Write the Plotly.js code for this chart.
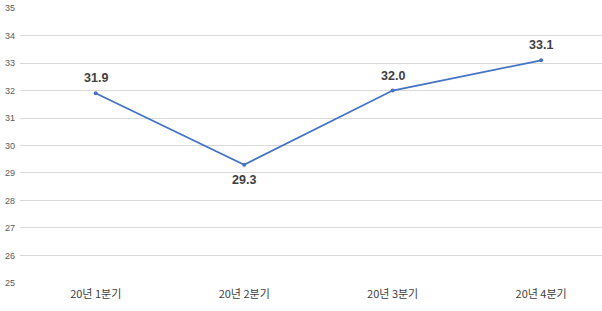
<!DOCTYPE html>
<html><head><meta charset="utf-8">
<script src="https://cdn.plot.ly/plotly-3.0.1.min.js"></script>
<style>body{margin:0;background:#fff}#c{width:602px;height:311px}</style>
</head><body><div id="c"></div>
<script>
const categories = ['20년 1분기', '20년 2분기', '20년 3분기', '20년 4분기'];
const values = [31.9, 29.3, 32.0, 33.1];
const labelText = ['31.9', '29.3', '32.0', '33.1'];
const labelSide = [1, -1, 1, 1];

const trace = {
  x: [0, 1, 2, 3], y: values, type: 'scatter', mode: 'lines+markers',
  line: {color: '#4472C4', width: 1.8},
  marker: {color: '#4472C4', size: 4},
  hoverinfo: 'skip'
};
const annotations = values.map((v, i) => ({
  x: i, y: v, xref: 'x', yref: 'y', text: '<b>' + labelText[i] + '</b>',
  showarrow: false, yshift: labelSide[i] * 15,
  font: {family: 'Liberation Sans, Arial, sans-serif', size: 12.5, color: '#404040'}
}));
const layout = {
  width: 602, height: 311,
  margin: {l: 20, r: 0, t: 8, b: 28},
  paper_bgcolor: '#fff', plot_bgcolor: '#fff',
  showlegend: false,
  xaxis: {
    range: [-0.51, 3.41], tickvals: [0, 1, 2, 3], ticktext: categories,
    showgrid: false, zeroline: false, showline: false, ticks: '',
    tickfont: {family: 'Noto Sans CJK KR, sans-serif', size: 11, color: '#404040'},
    ticklabelstandoff: 3
  },
  yaxis: {
    range: [24.995, 35.005], dtick: 1, tick0: 25,
    showgrid: true, gridcolor: '#D9D9D9', gridwidth: 1,
    zeroline: false, showline: false, ticks: '',
    tickfont: {family: 'Liberation Sans, Arial, sans-serif', size: 9, color: '#595959'},
    ticklabelstandoff: 4
  },
  annotations: annotations
};
Plotly.newPlot('c', [trace], layout, {staticPlot: true, displayModeBar: false});
</script></body></html>
